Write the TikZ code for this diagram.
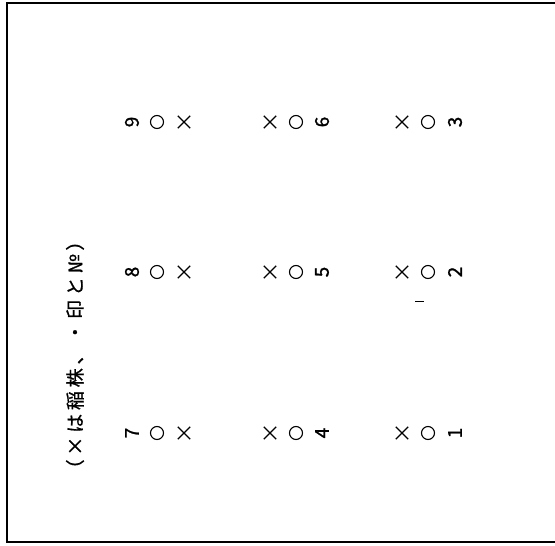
\documentclass[tikz,border=0pt]{standalone}
\usepackage{fontspec}
\newfontfamily\jp[FakeBold=1.2]{Noto Sans CJK JP}
\newfontfamily\jpsp[LetterSpace=20,FakeBold=0.8]{Noto Sans CJK JP}
\usetikzlibrary{shapes.misc}
\begin{document}
\begin{tikzpicture}[x=1pt,y=-1pt,
  num/.style={font=\jp\fontsize{19}{19}\selectfont, rotate=90, inner sep=0},
  hole/.style={circle, draw, line width=1.1pt, minimum size=13pt, inner sep=0},
  plant/.style={cross out, draw, line width=1.4pt, minimum size=11pt, inner sep=0},
  lbl/.style={font=\jpsp\fontsize{19}{19}\selectfont, rotate=90, inner sep=0}]
\useasboundingbox (0,0) rectangle (555,546);
\draw[line width=2pt] (555,3) -- (7,3) -- (7,542) -- (555,542);
% column A
\node[num] (n9) at (132,122) {9}; \node[hole] (h9) at (157,122) {}; \node[plant] (p9) at (184,122) {};
\node[num] (n8) at (132,272) {8}; \node[hole] (h8) at (157,272) {}; \node[plant] (p8) at (184,272) {};
\node[num] (n7) at (132,433) {7}; \node[hole] (h7) at (157,433) {}; \node[plant] (p7) at (184,433) {};
% column B
\node[plant] (p6) at (270,122) {}; \node[hole] (h6) at (296,122) {}; \node[num] (n6) at (322,122) {6};
\node[plant] (p5) at (270,272) {}; \node[hole] (h5) at (296,272) {}; \node[num] (n5) at (322,272) {5};
\node[plant] (p4) at (270,433) {}; \node[hole] (h4) at (296,433) {}; \node[num] (n4) at (322,433) {4};
% column C
\node[plant] (p3) at (402,122) {}; \node[hole] (h3) at (428,122) {}; \node[num] (n3) at (455,122) {3};
\node[plant] (p2) at (402,272) {}; \node[hole] (h2) at (428,272) {}; \node[num] (n2) at (455,272) {2};
\node[plant] (p1) at (402,433) {}; \node[hole] (h1) at (428,433) {}; \node[num] (n1) at (455,433) {1};
\coordinate (t1) at (415,301); \coordinate (t2) at (424,301);
\draw[line width=1pt] (t1) -- (t2);
\node[lbl] (label) at (75,355) {（×は稲株、・印と№）};
\end{tikzpicture}
\end{document}
